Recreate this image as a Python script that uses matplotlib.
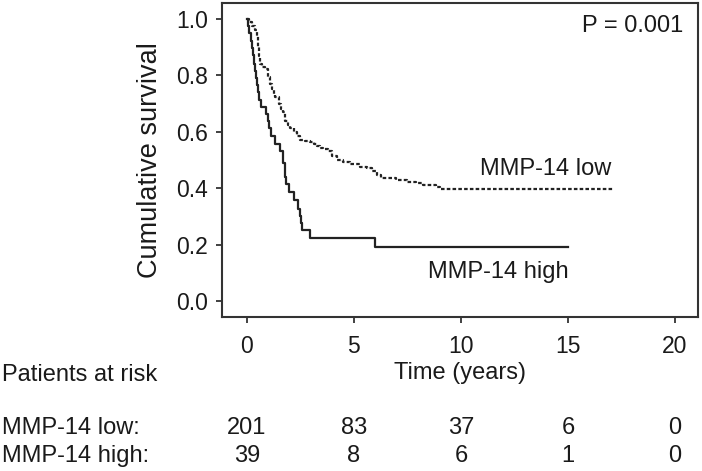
import matplotlib
matplotlib.use('Agg')
from matplotlib import pyplot as plt
import matplotlib.transforms as mtransforms

plt.rcParams['font.family'] = ['Liberation Sans', 'DejaVu Sans']

# Kaplan-Meier steps (time in years, cumulative survival)
low_t = [0, 0.10, 0.23, 0.39, 0.45, 0.51, 0.57, 0.62, 0.73, 0.86, 0.98, 1.09, 1.18, 1.25,
         1.32, 1.48, 1.60, 1.71, 1.79, 1.90, 2.02, 2.18, 2.32, 2.46, 2.73, 2.94, 3.12, 3.26,
         3.43, 3.57, 3.80, 3.96, 4.19, 4.50, 4.81, 5.28, 5.59, 5.83, 6.06, 6.29, 6.99, 7.46,
         7.90, 8.24, 8.86, 9.02, 17.15]
low_s = [1.0, 0.990, 0.976, 0.959, 0.940, 0.900, 0.870, 0.840, 0.829, 0.823, 0.793, 0.770,
         0.750, 0.734, 0.722, 0.699, 0.681, 0.669, 0.639, 0.622, 0.612, 0.598, 0.583, 0.571,
         0.567, 0.563, 0.557, 0.550, 0.541, 0.537, 0.530, 0.514, 0.498, 0.491, 0.486, 0.476,
         0.470, 0.459, 0.445, 0.435, 0.429, 0.423, 0.417, 0.411, 0.403, 0.397, 0.397]

high_t = [0, 0.05, 0.11, 0.17, 0.23, 0.28, 0.34, 0.38, 0.42, 0.46, 0.50, 0.57, 0.67, 0.89,
          0.98, 1.04, 1.14, 1.32, 1.56, 1.68, 1.71, 1.76, 1.80, 1.84, 1.95, 2.18, 2.41, 2.49,
          2.53, 2.57, 2.96, 6.01, 15.0]
high_s = [1.0, 0.974, 0.949, 0.923, 0.897, 0.872, 0.840, 0.815, 0.790, 0.765, 0.740, 0.712,
          0.688, 0.663, 0.639, 0.612, 0.586, 0.557, 0.533, 0.513, 0.490, 0.462, 0.438, 0.413,
          0.385, 0.357, 0.327, 0.300, 0.275, 0.250, 0.223, 0.190, 0.190]

risk_times = [0, 5, 10, 15, 20]
risk_low = [201, 83, 37, 6, 0]
risk_high = [39, 8, 6, 1, 0]

fig = plt.figure(figsize=(7.02, 4.71), dpi=100)
ax = fig.add_axes([0.316, 0.327, 0.678, 0.667])

ax.plot(low_t, low_s, drawstyle='steps-post', color='#222222', lw=1.6,
        linestyle=(0, (1.6, 1.0)))
ax.plot(high_t, high_s, drawstyle='steps-post', color='#222222', lw=1.6)

ax.set_xlim(-1.17, 21.07)
ax.set_ylim(-0.057, 1.057)
ax.set_xticks(risk_times)
ax.set_yticks([0.0, 0.2, 0.4, 0.6, 0.8, 1.0])
ax.set_yticklabels(['0.0', '0.2', '0.4', '0.6', '0.8', '1.0'])
ax.tick_params(axis='both', labelsize=16.5, colors='#333333', labelcolor='#1a1a1a',
               length=4, width=1.3)
ax.tick_params(axis='y', pad=6)
ax.tick_params(axis='x', pad=9)
for sp in ax.spines.values():
    sp.set_color('#333333')
    sp.set_linewidth(1.5)

ax.set_ylabel('Cumulative survival', fontsize=19.5, color='#1a1a1a')
ax.yaxis.set_label_coords(-0.151, 0.5)
ax.yaxis.label.set_va('center')
ax.set_xlabel('Time (years)', fontsize=17, color='#1a1a1a')
ax.xaxis.set_label_coords(0.5, -0.178)
ax.xaxis.label.set_va('center')

ax.text(20.37, 0.975, 'P = 0.001', fontsize=17, ha='right', va='center', color='#1a1a1a')
ax.text(10.9, 0.468, 'MMP-14 low', fontsize=17, ha='left', va='center', color='#1a1a1a')
ax.text(8.46, 0.103, 'MMP-14 high', fontsize=17, ha='left', va='center', color='#1a1a1a')

# risk table below the axes
trans = mtransforms.blended_transform_factory(ax.transData, fig.transFigure)
fig.text(0.003, 0.204, 'Patients at risk', fontsize=17, ha='left', va='center', color='#1a1a1a')
fig.text(0.003, 0.091, 'MMP-14 low:', fontsize=17, ha='left', va='center', color='#1a1a1a')
fig.text(0.003, 0.032, 'MMP-14 high:', fontsize=17, ha='left', va='center', color='#1a1a1a')
for t, a, b in zip(risk_times, risk_low, risk_high):
    ax.text(t, 0.091, str(a), transform=trans, fontsize=17, ha='center', va='center',
            color='#1a1a1a')
    ax.text(t, 0.032, str(b), transform=trans, fontsize=17, ha='center', va='center',
            color='#1a1a1a')

fig.savefig('out.png', dpi=100)
